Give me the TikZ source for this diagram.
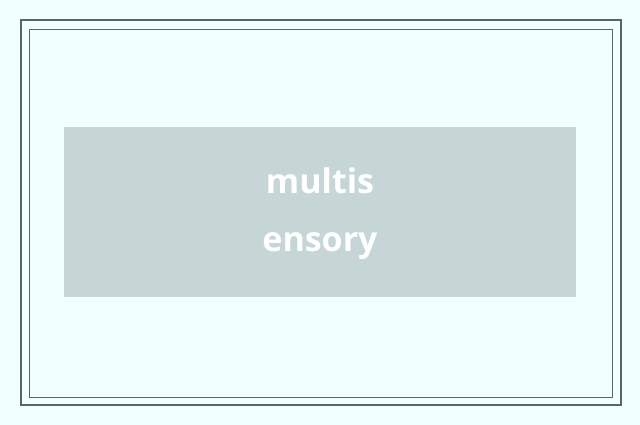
\documentclass[tikz,border=0pt]{standalone}
\usepackage{fontspec}
\setmainfont{Open Sans}
\definecolor{bg}{HTML}{F2FFFF}
\definecolor{frame}{HTML}{5A6666}
\definecolor{boxc}{HTML}{C6D5D5}
\begin{document}
\begin{tikzpicture}[x=1pt,y=-1pt,
  framebox/.style={draw=frame,line width=1.2pt},
  label/.style={text=white,font=\fontsize{34}{58}\selectfont\bfseries,align=center}]
\fill[bg] (0,0) rectangle (640,425);
\useasboundingbox (0,0) rectangle (640,425);
\draw[framebox] (21,20) rectangle (621,405);
\draw[frame,line width=0.8pt] (29,29) rectangle (612,397);
\fill[boxc] (64,127) rectangle (576,297);
\node[label] (t) at (320,214) {multis\\ensory};
\end{tikzpicture}
\end{document}
